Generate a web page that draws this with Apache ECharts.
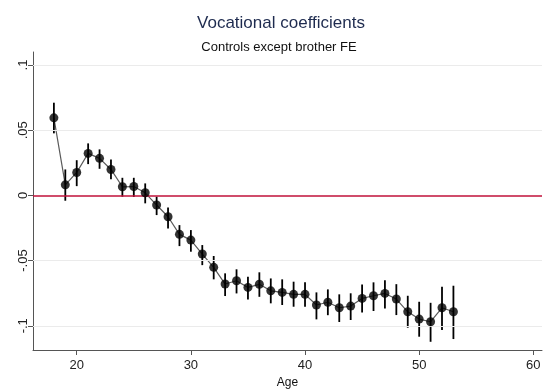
<!DOCTYPE html>
<html>
<head>
<meta charset="utf-8">
<script src="https://cdn.jsdelivr.net/npm/echarts@6/dist/echarts.min.js"></script>
<style>html,body{margin:0;padding:0;background:#fff}#c{width:544px;height:389px}</style>
</head>
<body>
<div id="c"></div>
<script>
var ages = [18,19,20,21,22,23,24,25,26,27,28,29,30,31,32,33,34,35,36,37,38,39,40,41,42,43,44,45,46,47,48,49,50,51,52,53];
var coef = [0.0595,0.0081,0.0176,0.0322,0.0284,0.0199,0.0066,0.0068,0.0020,-0.0074,-0.0164,-0.0299,-0.0343,-0.0450,-0.0552,-0.0680,-0.0655,-0.0706,-0.0682,-0.0732,-0.0744,-0.0759,-0.0759,-0.0841,-0.0820,-0.0862,-0.0849,-0.0790,-0.0770,-0.0752,-0.0795,-0.0893,-0.0949,-0.0969,-0.0862,-0.0893];
var ciHigh = [0.0711,0.0199,0.0270,0.0399,0.0353,0.0276,0.0135,0.0135,0.0092,-0.0010,-0.0092,-0.0228,-0.0266,-0.0381,-0.0465,-0.0598,-0.0567,-0.0624,-0.0590,-0.0637,-0.0644,-0.0662,-0.0667,-0.0744,-0.0721,-0.0759,-0.0751,-0.0683,-0.0667,-0.0650,-0.0681,-0.0770,-0.0816,-0.0824,-0.0701,-0.0693];
var ciLow = [0.0476,-0.0041,0.0071,0.0240,0.0204,0.0123,-0.0010,-0.0012,-0.0061,-0.0151,-0.0253,-0.0389,-0.0432,-0.0535,-0.0644,-0.0772,-0.0752,-0.0798,-0.0778,-0.0828,-0.0841,-0.0854,-0.0854,-0.0951,-0.0919,-0.0971,-0.0956,-0.0899,-0.0887,-0.0867,-0.0918,-0.1015,-0.1084,-0.1123,-0.1033,-0.1102];
var yTicks = [-0.1,-0.05,0,0.05,0.1];
var yTickLabels = ['-.1','-.05','0','.05','.1'];
var xTicks = [20,30,40,50,60];
var titleText = 'Vocational coefficients';
var subtitleText = 'Controls except brother FE';
var xName = 'Age';

var chart = echarts.init(document.getElementById('c'), null, {renderer:'canvas'});
var pts = ages.map(function(a,i){return [a, coef[i]];});
var bars = ages.map(function(a,i){return [a, ciLow[i], ciHigh[i]];});
var labelMap = {};
yTicks.forEach(function(v,i){labelMap[v.toFixed(2)] = yTickLabels[i];});
var FONT = 'Liberation Sans, Arial, sans-serif';

var option = {
  backgroundColor:'#fff',
  animation:false,
  title:[
    {text:titleText, left:276, top:10, textAlign:'center', textStyle:{fontFamily:FONT, fontSize:17, fontWeight:'normal', color:'#1e2b4f'}},
    {text:subtitleText, left:274, top:36, textAlign:'center', textStyle:{fontFamily:FONT, fontSize:13, fontWeight:'normal', color:'#111'}}
  ],
  grid:{left:33, right:2, top:52, bottom:39, containLabel:false, outerBoundsMode:'none'},
  xAxis:{
    type:'value', min:16.17, max:60.76,
    name:xName, nameLocation:'middle', nameGap:26,
    nameTextStyle:{fontFamily:FONT, fontSize:12, color:'#111'},
    axisLine:{show:true, onZero:false, lineStyle:{color:'#555', width:1}},
    axisTick:{show:true, length:5, customValues:xTicks, lineStyle:{color:'#555'}},
    axisLabel:{customValues:xTicks, margin:9, fontFamily:FONT, fontSize:13, color:'#222'},
    splitLine:{show:false}
  },
  yAxis:{
    type:'value', min:-0.1186, max:0.11,
    axisLine:{show:true, onZero:false, lineStyle:{color:'#555', width:1}},
    axisTick:{show:true, length:5, customValues:yTicks, lineStyle:{color:'#555'}},
    axisLabel:{customValues:yTicks, rotate:90, margin:3, fontFamily:FONT, fontSize:13, color:'#222',
      formatter:function(v){var k=(+v).toFixed(2); return labelMap[k]!==undefined?labelMap[k]:'';}},
    splitLine:{show:false}
  },
  series:[
    {
      type:'line', data:yTicks.filter(function(v){return v!==0;}).map(function(v){return [16.17,v];}),
      showSymbol:false, lineStyle:{opacity:0}, silent:true,
      markLine:{silent:true, symbol:'none', label:{show:false},
        lineStyle:{color:'#ebebeb', width:1, type:'solid'},
        data:yTicks.filter(function(v){return v!==0;}).map(function(v){return {yAxis:v};})}
    },
    {
      type:'line', data:[[16.17,0]], showSymbol:false, lineStyle:{opacity:0}, silent:true,
      markLine:{silent:true, symbol:'none', label:{show:false},
        lineStyle:{color:'#c0103a', width:1.5, type:'solid'}, data:[{yAxis:0}]}
    },
    {
      type:'line', data:pts, symbol:'none', lineStyle:{color:'#5a5a5a', width:1.2}, z:3
    },
    {
      type:'custom', data:bars, z:4,
      renderItem:function(params, api){
        var x = api.value(0);
        var p1 = api.coord([x, api.value(1)]);
        var p2 = api.coord([x, api.value(2)]);
        return {type:'line', shape:{x1:p1[0], y1:p1[1], x2:p2[0], y2:p2[1]}, style:{stroke:'#000', lineWidth:1.8}};
      }
    },
    {
      type:'scatter', data:pts, symbol:'circle', symbolSize:9, itemStyle:{color:'#000'}, z:5
    }
  ]
};
chart.setOption(option);
</script>
</body>
</html>
